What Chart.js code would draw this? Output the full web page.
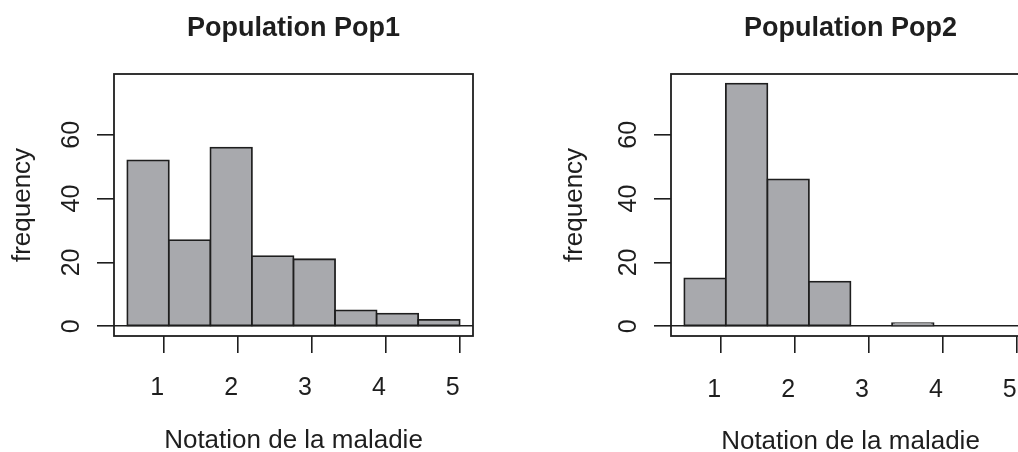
<!DOCTYPE html>
<html><head><meta charset="utf-8">
<script src="https://cdn.jsdelivr.net/npm/chart.js@4.4.1/dist/chart.umd.min.js"></script>
<style>
html,body{margin:0;padding:0;background:#fff;width:1018px;height:452px;overflow:hidden;position:relative}
.panel{position:absolute;top:0;width:509px;height:452px}
#p1{left:0}
#p2{left:557px}
canvas{display:block}
</style></head><body>
<div class="panel" id="p1"><canvas id="c1" width="509" height="452"></canvas></div>
<div class="panel" id="p2"><canvas id="c2" width="509" height="452"></canvas></div>
<script>
// ---- data ----
const panelTitles = ['Population Pop1', 'Population Pop2'];
const xLabel = 'Notation de la maladie';
const yLabel = 'frequency';
const binEdges = [0.5, 1.0625, 1.625, 2.1875, 2.75, 3.3125, 3.875, 4.4375, 5.0];
const pop1Counts = [52, 27, 56, 22, 21, 5, 4, 2];
const pop2Counts = [15, 76, 46, 14, 0, 1, 0, 0];
const xTicks = [1, 2, 3, 4, 5];
const yTicks = [0, 20, 40, 60];

// ---- R-like axis ranges (4% extension) ----
const yTop = Math.max(...pop1Counts, ...pop2Counts);
const yMin = -0.04 * yTop, yMax = yTop * 1.04;
const xSpan = binEdges[binEdges.length - 1] - binEdges[0];
const xMin = binEdges[0] - 0.04 * xSpan, xMax = binEdges[binEdges.length - 1] + 0.04 * xSpan;

const FONT = "'Liberation Sans', Arial, Helvetica, sans-serif";
const INK = '#1e1e1e';
const FILL = '#a8a9ad';

const boxPlugin = {
  id: 'rbox',
  afterDraw(chart) {
    const {ctx, chartArea: a} = chart;
    ctx.save();
    ctx.strokeStyle = INK;
    ctx.lineWidth = 1.8;
    ctx.strokeRect(a.left, a.top, a.right - a.left, a.bottom - a.top);
    ctx.restore();
  }
};

function makeHist(id, title, counts, o) {
  const data = counts.map((c, i) => ({x: (binEdges[i] + binEdges[i + 1]) / 2, y: c}));
  return new Chart(document.getElementById(id), {
    type: 'bar',
    data: {datasets: [{
      data,
      backgroundColor: FILL,
      borderColor: INK,
      borderWidth: 1.8,
      borderSkipped: false,
      inflateAmount: 0.9,
      barPercentage: 1,
      categoryPercentage: 1
    }]},
    options: {
      responsive: false,
      animation: false,
      devicePixelRatio: 1,
      layout: {padding: {left: 0, right: 36, top: 0, bottom: 0}},
      plugins: {
        legend: {display: false},
        tooltip: {enabled: false},
        title: {
          display: true, text: title, fullSize: false, color: INK,
          font: {family: FONT, size: 27, weight: 'bold', lineHeight: 1},
          padding: {top: 15, bottom: 32}
        }
      },
      scales: {
        x: {
          type: 'linear', min: xMin, max: xMax, offset: false, bounds: 'data',
          afterBuildTicks: s => { s.ticks = xTicks.map(v => ({value: v})); },
          afterFit: s => { s.height = 116; },
          grid: {drawOnChartArea: false, offset: false, tickLength: 17, color: INK, lineWidth: 1.6},
          border: {display: false},
          ticks: {autoSkip: false, minRotation: 0, maxRotation: 0, padding: o.xTickPad, labelOffset: -7,
                  color: INK, font: {family: FONT, size: 25}, callback: v => String(v)},
          title: {display: true, text: xLabel, color: INK,
                  font: {family: FONT, size: 26, lineHeight: o.xTitleLH}, padding: {top: 0, bottom: 0}}
        },
        y: {
          type: 'linear', min: yMin, max: yMax, bounds: 'data',
          afterBuildTicks: s => { s.ticks = yTicks.map(v => ({value: v})); },
          afterFit: s => { s.width = 114; },
          grid: {
            drawOnChartArea: true, tickLength: 17, lineWidth: 1.6, tickColor: INK,
            color: c => (c.tick && c.tick.value === 0) ? INK : 'rgba(0,0,0,0)'
          },
          border: {display: false},
          ticks: {minRotation: 90, maxRotation: 90, crossAlign: 'center', padding: 11, color: INK,
                  font: {family: FONT, size: 25}, callback: v => String(v)},
          title: {display: true, text: yLabel, color: INK,
                  font: {family: FONT, size: 26, lineHeight: 1}, padding: {top: o.yTitlePad, bottom: 0}}
        }
      }
    },
    plugins: [boxPlugin]
  });
}

makeHist('c1', panelTitles[0], pop1Counts, {xTickPad: 20, xTitleLH: 0.85, yTitlePad: 9.5});
makeHist('c2', panelTitles[1], pop2Counts, {xTickPad: 22.5, xTitleLH: 0.75, yTitlePad: 5});
</script>
</body></html>
